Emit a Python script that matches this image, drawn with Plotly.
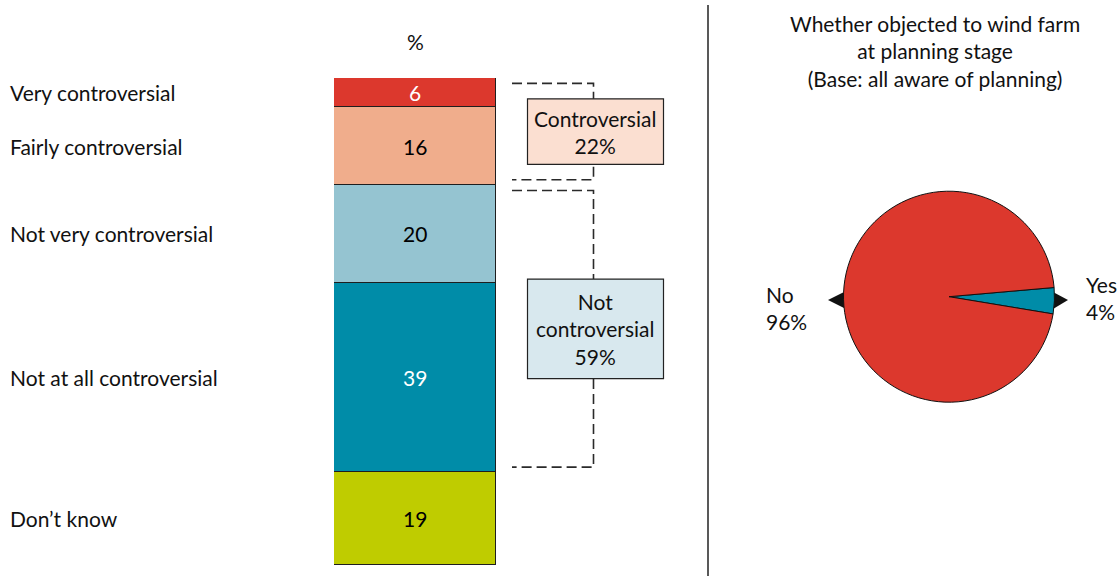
import plotly.graph_objects as go
import numpy as np

# Controversy ratings (%), stacked top to bottom
categories = ["Very controversial", "Fairly controversial", "Not very controversial",
              "Not at all controversial", "Don\u2019t know"]
values = [6, 16, 20, 39, 19]
bar_colors = ["#dc382d", "#f0ad8c", "#95c4d1", "#008ca8", "#bfcc00"]
label_colors = ["white", "black", "black", "white", "black"]

# Groupings shown in the side boxes
group_names = ["Controversial", "Not<br>controversial"]
group_members = [[0, 1], [2, 3]]
group_fills = ["#fbdfd1", "#d8e8ee"]

# Pie: whether objected at planning stage
pie_labels = ["Yes", "No"]
pie_values = [4, 96]
pie_colors = ["#008ca8", "#dc382d"]

W, H = 1120, 576
FONT = "Lato"
FS = 21


def px(x):
    return x / W


def py(y):
    return 1 - y / H


fig = go.Figure()

for cat, v, c in zip(categories, values, bar_colors):
    fig.add_trace(go.Bar(
        x=[0], y=[v], name=cat, width=1,
        marker=dict(color=c, line=dict(color="#1e1e1e", width=1.5)),
        showlegend=False, hoverinfo="skip",
    ))

fig.add_trace(go.Pie(
    labels=pie_labels, values=pie_values, sort=False, direction="clockwise",
    rotation=85, marker=dict(colors=pie_colors, line=dict(color="#111", width=1)),
    textinfo="none", showlegend=False, hoverinfo="skip",
    domain=dict(x=[px(949 - 105.5), px(949 + 105.5)],
                y=[py(296.7 + 105.5), py(296.7 - 105.5)]),
))

fig.update_layout(
    width=W, height=H, margin=dict(l=0, r=0, t=0, b=0),
    paper_bgcolor="white", plot_bgcolor="rgba(0,0,0,0)",
    barmode="stack", bargap=0,
    font=dict(family=FONT, size=FS, color="#111"),
    xaxis=dict(domain=[px(334), px(496)], range=[-0.5, 0.5], visible=False, fixedrange=True),
    yaxis=dict(domain=[py(565), py(78)], range=[100, 0], visible=False, fixedrange=True),
)

cum = np.concatenate([[0], np.cumsum(values)])
centers = (cum[:-1] + cum[1:]) / 2

annotations = []
for cat, v, yc, tc in zip(categories, values, centers, label_colors):
    annotations.append(dict(text=cat, xref="paper", yref="y", x=px(8), y=yc,
                            xanchor="left", yanchor="middle", showarrow=False))
    annotations.append(dict(text=str(v), xref="x", yref="y", x=0, y=yc,
                            xanchor="center", yanchor="middle", showarrow=False,
                            font=dict(color=tc)))

annotations.append(dict(text="%", xref="paper", yref="paper", x=px(415), y=py(41),
                        xanchor="center", yanchor="middle", showarrow=False))

shapes = []
inset = 1.1
box_x0, box_x1 = px(527.5), px(663.5)
box_heights = [65.5, 99.5]
for name, members, fill, bh in zip(group_names, group_members, group_fills, box_heights):
    top = cum[members[0]] + inset
    bot = cum[members[-1] + 1] - inset
    pct = sum(values[i] for i in members)
    # dashed bracket
    shapes.append(dict(type="path", xref="paper", yref="y",
                       path=f"M {px(512)},{top} L {px(593.5)},{top} L {px(593.5)},{bot} L {px(512)},{bot}",
                       line=dict(color="#2a2a2a", width=1.6, dash="10px,5px")))
    mid = (top + bot) / 2
    half = bh / 2 / 4.87
    shapes.append(dict(type="rect", xref="paper", yref="y",
                       x0=box_x0, x1=box_x1, y0=mid - half, y1=mid + half,
                       fillcolor=fill, line=dict(color="#222", width=1.2), layer="above"))
    annotations.append(dict(text=f"{name}<br>{pct}%", xref="paper", yref="y",
                            x=(box_x0 + box_x1) / 2, y=mid, xanchor="center", yanchor="middle",
                            showarrow=False))

# divider between panels
shapes.append(dict(type="line", xref="paper", yref="paper", x0=px(708), x1=px(708),
                   y0=py(5), y1=py(576), line=dict(color="#222", width=1.5)))

# pointer triangles next to the pie
shapes.append(dict(type="path", xref="paper", yref="paper",
                   path=f"M {px(828)},{py(300)} L {px(844)},{py(292)} L {px(844)},{py(308)} Z",
                   fillcolor="#111", line=dict(width=0), layer="below"))
shapes.append(dict(type="path", xref="paper", yref="paper",
                   path=f"M {px(1068)},{py(300)} L {px(1053)},{py(292)} L {px(1053)},{py(309)} Z",
                   fillcolor="#111", line=dict(width=0), layer="below"))

annotations.append(dict(text="Whether objected to wind farm<br>at planning stage<br>(Base: all aware of planning)",
                        xref="paper", yref="paper", x=px(935), y=py(50.5), xanchor="center",
                        yanchor="middle", showarrow=False))
annotations.append(dict(text=f"{pie_labels[1]}<br>{pie_values[1]}%", xref="paper", yref="paper",
                        x=px(764), y=py(308), xanchor="left", yanchor="middle", align="left",
                        showarrow=False))
annotations.append(dict(text=f"{pie_labels[0]}<br>{pie_values[0]}%", xref="paper", yref="paper",
                        x=px(1084), y=py(298), xanchor="left", yanchor="middle", align="left",
                        showarrow=False))

fig.update_layout(annotations=annotations, shapes=shapes)
fig.write_html("out.html")
